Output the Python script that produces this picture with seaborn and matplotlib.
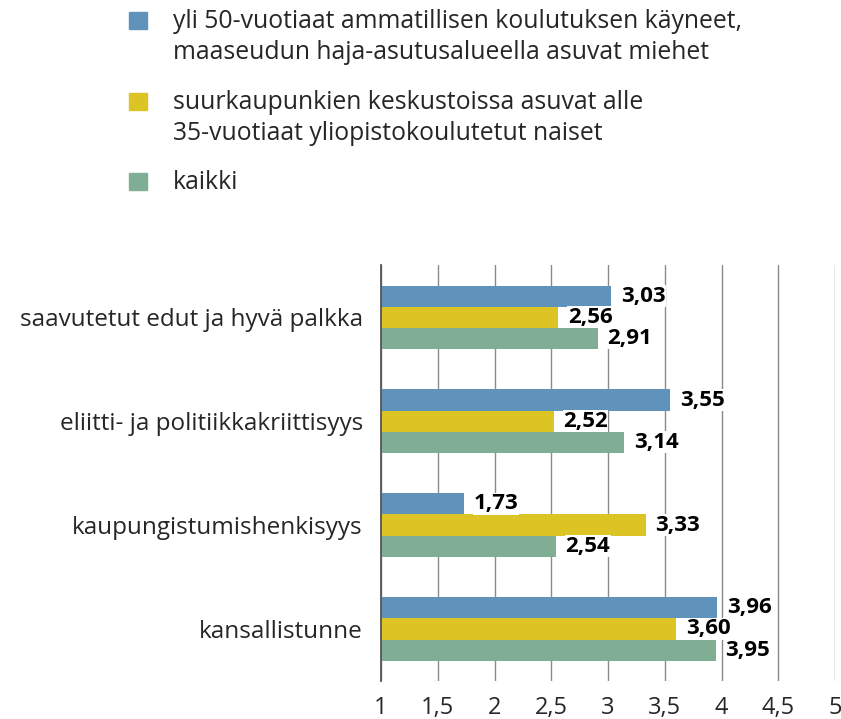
import pandas as pd
import seaborn as sns
import matplotlib.pyplot as plt
from matplotlib.patches import Rectangle

# Chart data
categories = ["saavutetut edut ja hyvä palkka", "eliitti- ja politiikkakriittisyys",
              "kaupungistumishenkisyys", "kansallistunne"]
groups = ["yli 50-vuotiaat ammatillisen koulutuksen käyneet,\nmaaseudun haja-asutusalueella asuvat miehet",
          "suurkaupunkien keskustoissa asuvat alle\n35-vuotiaat yliopistokoulutetut naiset",
          "kaikki"]
men_rural = [3.03, 3.55, 1.73, 3.96]
women_urban = [2.56, 2.52, 3.33, 3.60]
everyone = [2.91, 3.14, 2.54, 3.95]
colors = ["#5f93bc", "#dbc424", "#7fae94"]
xticks = [1, 1.5, 2, 2.5, 3, 3.5, 4, 4.5, 5]

rows = []
for g, vals in zip(groups, [men_rural, women_urban, everyone]):
    for c, v in zip(categories, vals):
        rows.append({"kategoria": c, "ryhmä": g, "arvo": v})
df = pd.DataFrame(rows)

sns.set_style("white")
plt.rcParams['font.family'] = ['Open Sans', 'DejaVu Sans']

fig = plt.figure(figsize=(8.41, 7.19), dpi=100)
ax = fig.add_axes([0.453, 0.053, 0.540, 0.578])

sns.barplot(data=df, y="kategoria", x="arvo", hue="ryhmä", order=categories,
            hue_order=groups, palette=colors, width=0.61, orient="h",
            saturation=1, legend=False, linewidth=0, ax=ax, zorder=3)

ax.set_xlim(1, 5)
ax.set_ylim(3.5, -0.5)
ax.set_xticks(xticks)
ax.set_xticklabels([f"{t:g}".replace(".", ",") for t in xticks], fontsize=17)
ax.tick_params(axis="x", length=0, pad=11)
ax.tick_params(axis="y", length=0, pad=13, labelsize=17.5)
ax.set_xlabel("")
ax.set_ylabel("")
ax.grid(axis="x", color="#8a8a8a", linewidth=1, zorder=0)
ax.set_axisbelow(True)
for s in ["top", "right", "bottom"]:
    ax.spines[s].set_visible(False)
ax.spines["left"].set_color("#555555")
ax.spines["left"].set_linewidth(1.3)
ax.spines["left"].set_zorder(4)

for cont, vals in zip(ax.containers, [men_rural, women_urban, everyone]):
    ax.bar_label(cont, labels=[f"{v:.2f}".replace(".", ",") for v in vals],
                 padding=7, fontsize=16, fontweight="bold", color="black",
                 bbox=dict(facecolor="white", edgecolor="none", pad=0.3), zorder=5)

# legend drawn by hand so squares line up with first text line
sq_top = [12, 93, 173]
for y0, g, col in zip(sq_top, groups, colors):
    fig.add_artist(Rectangle((129 / 841, 1 - (y0 + 17) / 719), 18 / 841, 17 / 719,
                             transform=fig.transFigure, color=col))
    fig.text(173 / 841, 1 - (y0 - 3) / 719, g, fontsize=17.8, va="top", ha="left",
             linespacing=1.3)

fig.savefig("out.png", dpi=100)
